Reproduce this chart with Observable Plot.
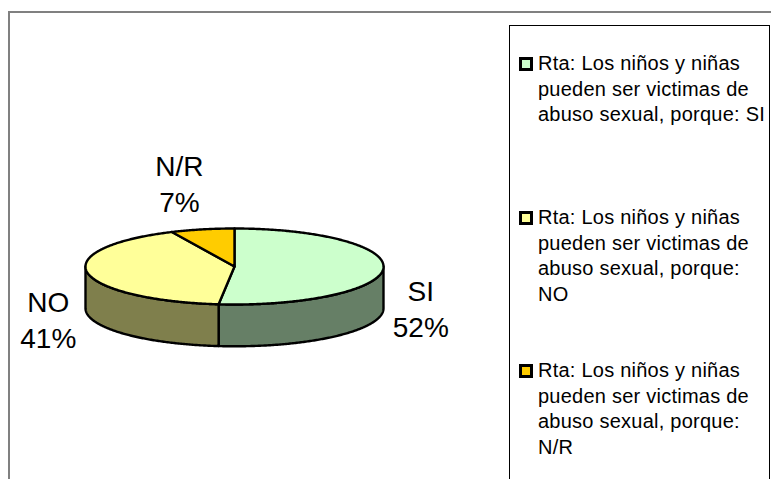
<!DOCTYPE html>
<html><head><meta charset="utf-8">
<script src="https://cdn.jsdelivr.net/npm/d3@7"></script>
<script src="https://cdn.jsdelivr.net/npm/@observablehq/plot@0.6"></script>
<style>
html,body{margin:0;padding:0;background:#fff;overflow:hidden;width:771px;height:479px}
#root{position:relative;width:771px;height:479px;overflow:hidden;font-family:"Liberation Sans",Arial,sans-serif}
#chartFrame{position:absolute;left:8px;top:11px;width:800px;height:500px;border:2px solid #808080;box-sizing:border-box}
#plot{position:absolute;left:0;top:0}
#legend{position:absolute;left:509px;top:25px;width:261px;height:480px;border:1px solid #000;box-sizing:border-box;background:#fff}
.item{position:absolute;left:28px;font-size:20px;line-height:25.7px;color:#000;white-space:pre;letter-spacing:.24px}
.sw{position:absolute;left:9px;width:14px;height:14px;border:3px solid #000;box-sizing:border-box}
</style></head><body>
<div id="root"><div id="chartFrame"></div><div id="plot"></div><div id="legend"></div></div>
<script>
const categories = ["SI", "NO", "N/R"];
const percents = [51.7, 41.4, 6.9];
const topColors = ["#CCFFCC", "#FFFF99", "#FFCC00"];
const sideColors = ["#667F66", "#7F7F4C", "#7F6600"];
const legendLines = [
  "Rta: Los niños y niñas\npueden ser victimas de\nabuso sexual, porque: SI",
  "Rta: Los niños y niñas\npueden ser victimas de\nabuso sexual, porque:\nNO",
  "Rta: Los niños y niñas\npueden ser victimas de\nabuso sexual, porque:\nN/R"
];
// label placement, in units of the pie's radii
const labelPlacement = [[1.25, -1.08], [-1.25, -1.37], [-0.37, 2.21]];
const depth = 1.1; // wall height, in units of the vertical radius

const total = d3.sum(percents);
let run = 0;
const slices = categories.map((name, i) => {
  const a0 = run / total * 2 * Math.PI;
  run += percents[i];
  return {name, value: percents[i], a0, a1: run / total * 2 * Math.PI, top: topColors[i], side: sideColors[i]};
});
const pt = (a, drop = 0) => ({x: Math.sin(a), y: Math.cos(a) - drop});
const arc = (a0, a1, drop = 0) => {
  const n = Math.max(2, Math.ceil(Math.abs(a1 - a0) / 0.01));
  return d3.range(n + 1).map(k => pt(a0 + (a1 - a0) * k / n, drop));
};
const walls = slices.flatMap(s => {
  const a0 = Math.max(s.a0, Math.PI / 2), a1 = Math.min(s.a1, 3 * Math.PI / 2);
  if (a1 <= a0) return [];
  const pts = [...arc(a0, a1, 0), ...arc(a1, a0, depth)];
  pts.push(pts[0]);
  return [{color: s.side, pts}];
});
const faces = slices.map(s => {
  const pts = [{x: 0, y: 0}, ...arc(s.a0, s.a1), {x: 0, y: 0}];
  return {color: s.top, pts};
});
const labels = slices.map((s, i) => ({
  x: labelPlacement[i][0], y: labelPlacement[i][1], text: `${s.name}\n${Math.round(s.value)}%`
}));
const lineOpts = c => ({x: "x", y: "y", fill: c, stroke: "#000", strokeWidth: 2.4, strokeLinejoin: "round", curve: "linear"});
const chart = Plot.plot({
  width: 771, height: 479, margin: 0,
  x: {domain: [-1, 1], range: [85, 383], axis: null},
  y: {domain: [-1, 1], range: [304, 228], axis: null},
  style: {background: "transparent"},
  marks: [
    ...walls.map(w => Plot.line(w.pts, lineOpts(w.color))),
    ...faces.map(f => Plot.line(f.pts, lineOpts(f.color))),
    Plot.text(labels, {x: "x", y: "y", text: "text", fontSize: 28, lineHeight: 1.27, fill: "#000",
      fontFamily: "Liberation Sans, Arial, sans-serif"})
  ]
});
document.getElementById("plot").append(chart);
const tops = [25, 179, 332];
const legend = document.getElementById("legend");
slices.forEach((s, i) => {
  const t = document.createElement("div");
  t.className = "item"; t.style.top = tops[i] + "px"; t.textContent = legendLines[i];
  const b = document.createElement("div");
  b.className = "sw"; b.style.top = (tops[i] + 6) + "px"; b.style.background = s.top;
  legend.append(b, t);
});
</script></body></html>
